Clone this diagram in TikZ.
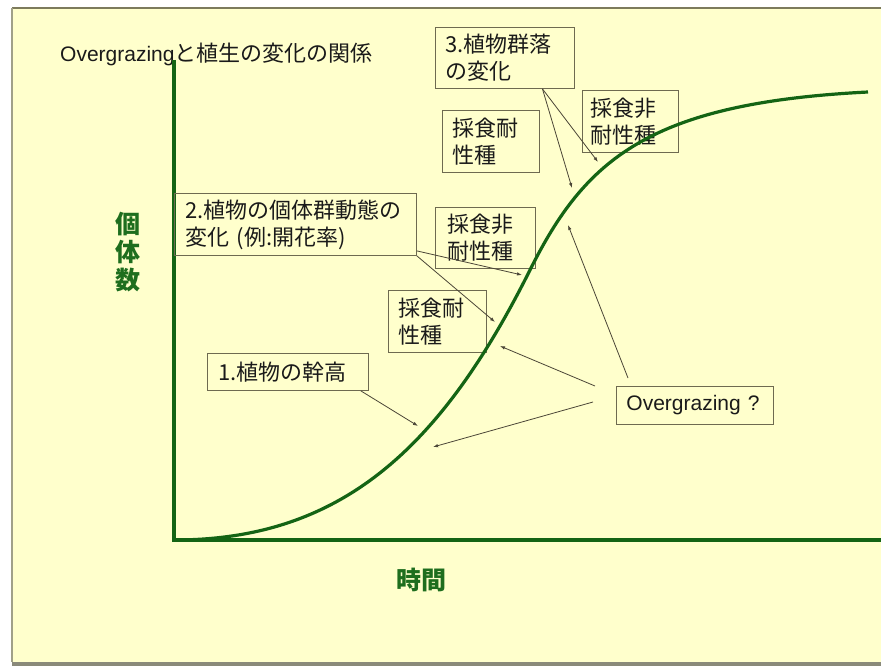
\documentclass[tikz,border=0pt]{standalone}
\usepackage{fontspec}
\setmainfont{Noto Sans CJK JP}
\newfontfamily\lat{Liberation Sans}
\usetikzlibrary{arrows.meta,calc}
\definecolor{bg}{HTML}{FFFFCC}
\definecolor{axgreen}{HTML}{146414}
\definecolor{lblgreen}{HTML}{1E6E1E}
\definecolor{boxline}{HTML}{6E6A50}
\definecolor{arrowc}{HTML}{4A4536}
\definecolor{txt}{HTML}{1A1A1A}
\definecolor{frametop}{HTML}{7D7B5C}
\definecolor{frameleft}{HTML}{A0A088}
\definecolor{frameshadow}{HTML}{8A8A7A}
\begin{document}
\begin{tikzpicture}[x=1pt,y=-1pt,
  box/.style={draw=boxline, line width=0.9pt, rectangle, anchor=north west,
    align=left, inner xsep=10pt, inner ysep=0pt, text=txt,
    font=\fontsize{22}{27}\selectfont},
  conn/.style={draw=arrowc, line width=0.8pt, -{Latex[length=5pt,width=3.5pt]}},
  axisline/.style={draw=axgreen, line width=3.5pt},
  curveline/.style={draw=axgreen, line width=3.2pt},
  lbl/.style={text=lblgreen, font=\fontsize{25}{28}\selectfont\bfseries,
    align=center, inner sep=0pt}]
\useasboundingbox (0,0) rectangle (881,669);
% frame
\fill[white] (0,0) rectangle (881,669);
\fill[bg] (12,8) rectangle (881,662);
\draw[frametop, line width=2pt] (12,8) -- (881,8);
\draw[frameleft, line width=1.5pt] (12,8) -- (12,662);
\fill[frameshadow] (12,662) rectangle (881,666);

% title
\node[anchor=west, inner sep=0pt, text=txt, font=\fontsize{22}{22}\selectfont] (title)
  at (60,54) {{\lat\fontsize{21}{21}\selectfont Overgrazing}と植生の変化の関係};

% axes
\coordinate (O) at (174,540);
\coordinate (Ytop) at (174,60);
\coordinate (Xend) at (881,540);
\draw[axisline] (Ytop) -- (O) -- (Xend);

% axis labels
\node[lbl] (ylab) at (128,252) {個\\体\\数};
\node[lbl] (xlab) at (421,580) {時間};

% boxes
\node[box, text width=119pt, minimum height=61pt] (b3) at (435,27) {3.植物群落\\の変化};
\node[box, text width=77pt, minimum height=62pt] (bt1) at (442,110) {採食耐\\性種};
\node[box, text width=80pt, inner xsep=8pt, minimum height=62pt] (bn1) at (582,90) {採食非\\耐性種};
\node[box, text width=220pt, inner xsep=11pt, minimum height=62pt] (b2) at (174,193) {2.植物の個体群動態の\\変化 (例:開花率)};
\node[box, text width=76pt, inner xsep=12pt, minimum height=61pt] (bn2) at (435,207) {採食非\\耐性種};
\node[box, text width=78pt, minimum height=62pt] (bt2) at (388,290) {採食耐\\性種};
\node[box, text width=139pt, inner xsep=11pt, minimum height=37pt] (b1) at (207,353) {1.植物の幹高};
\node[box, text width=137pt, minimum height=38pt, font=\lat\fontsize{21}{24}\selectfont] (og) at (616,386) {Overgrazing ?};

% curve
\coordinate (infl) at (530,270);
\coordinate (cend) at (868,92);
\draw[curveline] (O) .. controls (340,540) and (440,450) .. (infl)
  .. controls (585,160) and (648,103) .. (cend);

% targets
\coordinate (t3a) at (572,188);
\coordinate (t3b) at (598,162);
\coordinate (t2a) at (522,275);
\coordinate (t2b) at (495,322);
\coordinate (t1) at (418,426);
\coordinate (toa) at (568,225);
\coordinate (tob) at (500,346);
\coordinate (toc) at (433,447);

% connectors
\draw[conn] ([xshift=37.5pt]b3.south) -- (t3a);
\draw[conn] ([xshift=37.5pt]b3.south) -- (t3b);
\draw[conn] ([yshift=5pt]b2.south east) -- (t2a);
\draw[conn] (b2.south east) -- (t2b);
\draw[conn] ([xshift=-8pt]b1.south east) -- (t1);
\draw[conn] ([xshift=12pt,yshift=8pt]og.north west) -- (toa);
\draw[conn] ([xshift=-21pt]og.north west) -- (tob);
\draw[conn] ([xshift=-23pt,yshift=-16pt]og.north west) -- (toc);
\end{tikzpicture}
\end{document}
